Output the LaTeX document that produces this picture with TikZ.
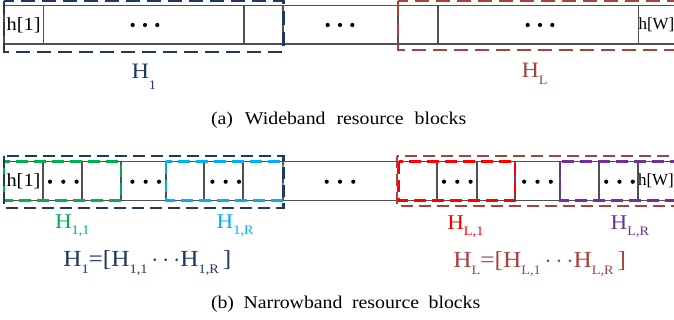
\documentclass[tikz,border=0pt]{standalone}
\usepackage{fontspec}
\setmainfont{Liberation Serif}[FakeStretch=1.1]
\definecolor{navy}{HTML}{1F3864}
\definecolor{dred}{RGB}{168,66,60}
\definecolor{ogreen}{HTML}{00B050}
\definecolor{ocyan}{HTML}{00B0F0}
\definecolor{ored}{HTML}{FF0000}
\definecolor{opurple}{HTML}{7030A0}
\definecolor{cellgray}{HTML}{505050}
\newcommand\Hsb[2]{H\raisebox{-#2pt}{\fontsize{13}{13}\selectfont #1}}
\tikzset{
  cell/.style={draw=cellgray, line width=1.2pt, inner sep=0pt, outer sep=0pt, rectangle},
  grpbig/.style={line width=2.4pt, dash pattern=on 14pt off 7pt},
  grpsmall/.style={line width=2.4pt, dash pattern=on 12pt off 6pt},
  txt/.style={inner sep=0pt, outer sep=0pt, font=\fontsize{18.5}{20}\selectfont},
  lbl/.style={inner sep=0pt, outer sep=0pt, anchor=base west, font=\fontsize{21}{24}\selectfont},
  eqn/.style={inner sep=0pt, outer sep=0pt, anchor=base west, font=\fontsize{23}{26}\selectfont},
  captxt/.style={inner sep=0pt, outer sep=0pt, anchor=base west, font=\fontsize{18}{20}\selectfont},
  dotc/.style={fill=black},
}
\begin{document}
\begin{tikzpicture}[x=1pt,y=-1pt]
\clip (0,0) rectangle (674,320);
\fill[white] (0,0) rectangle (674,320);
% ---------- (a) wideband row ----------
\foreach \a/\b [count=\i] in {4/43.3, 43.3/244, 244/283, 283/398, 398/438, 438/638.5, 638.5/690}
  \node[cell, minimum width={(\b-\a)*1pt}, minimum height=38.3pt] (t\i) at ({(\a+\b)/2}, 24.85) {};
\node[txt] (th1) at (t1.center) {h[1]};
\node[txt, anchor=west, font=\fontsize{17}{20}\selectfont\addfontfeature{FakeStretch=1.0}] (thw) at (t7.west) {h[W]};
\foreach \c in {145, 340, 540}
  \foreach \d in {-12.3, 0, 12.3}
    \fill[dotc] (\c+\d, 25) circle (2.1);
\draw[grpbig, navy] (4,1.2) rectangle (283.5,52);
\draw[grpbig, dred] (398,1.2) rectangle (690,50);
\node[lbl, font=\fontsize{22}{24}\selectfont, text=navy] (hA1) at (131.5,78.3) {\Hsb{1}{11}};
\node[lbl, font=\fontsize{22}{24}\selectfont, text=dred] (hAL) at (521.5,77.3) {\Hsb{L}{7}};
\node[captxt] (capa) at (211,125) {(a)\hspace{12pt}Wideband\hspace{11pt}resource\hspace{11pt}blocks};
% ---------- (b) narrowband row ----------
\foreach \a/\b [count=\i] in {4/43, 43/82, 82/121, 121/166, 166/204, 204/243, 243/283, 283/397.5, 397.5/437, 437/477, 477/515, 515/560, 560/599, 599/638, 638/690}
  \node[cell, minimum width={(\b-\a)*1pt}, minimum height=39pt] (b\i) at ({(\a+\b)/2}, 181.2) {};
\node[txt] (bh1) at (b1.center) {h[1]};
\node[txt, anchor=west, font=\fontsize{17}{20}\selectfont\addfontfeature{FakeStretch=1.0}] (bhw) at (b15.west) {h[W]};
\foreach \c in {63.3, 145.7, 225.7, 340, 457.3, 537.5, 619.5}
  \foreach \d in {-13.3, 0, 13.3}
    \fill[dotc] (\c+\d, 181.7) circle (2.1);
\draw[grpsmall, ogreen] (4,161.7) rectangle (121,200.7);
\draw[grpsmall, ocyan] (166,161.7) rectangle (283,200.7);
\draw[grpsmall, ored] (399,161.7) rectangle (515,200.7);
\draw[grpsmall, opurple] (560,161.7) rectangle (690,200.7);
\draw[grpsmall, navy] (4,156) rectangle (283.5,208);
\draw[grpsmall, dred] (397,156) rectangle (690,206);
\node[lbl, text=ogreen] (h11) at (55,228.3) {\Hsb{1,1}{6}};
\node[lbl, text=ocyan] (h1R) at (216.7,228.3) {\Hsb{1,R}{6}};
\node[lbl, text=ored] (hL1) at (447.3,229.3) {\Hsb{L,1}{6}};
\node[lbl, text=opurple] (hLR) at (610.7,229.3) {\Hsb{L,R}{6}};
\node[eqn, text=navy] (eq1) at (63.3,266) {\Hsb{1}{7}=[\Hsb{1,1}{7}\,$\cdots$\Hsb{1,R}{7}\,]};
\node[eqn, text=dred] (eqL) at (453.3,267.3) {\Hsb{L}{7}=[\Hsb{L,1}{7}\,$\cdots$\Hsb{L,R}{7}\,]};
\node[captxt] (capb) at (211,308) {(b)\hspace{9.5pt}Narrowband\hspace{9.5pt}resource\hspace{9.5pt}blocks};
\end{tikzpicture}
\end{document}
